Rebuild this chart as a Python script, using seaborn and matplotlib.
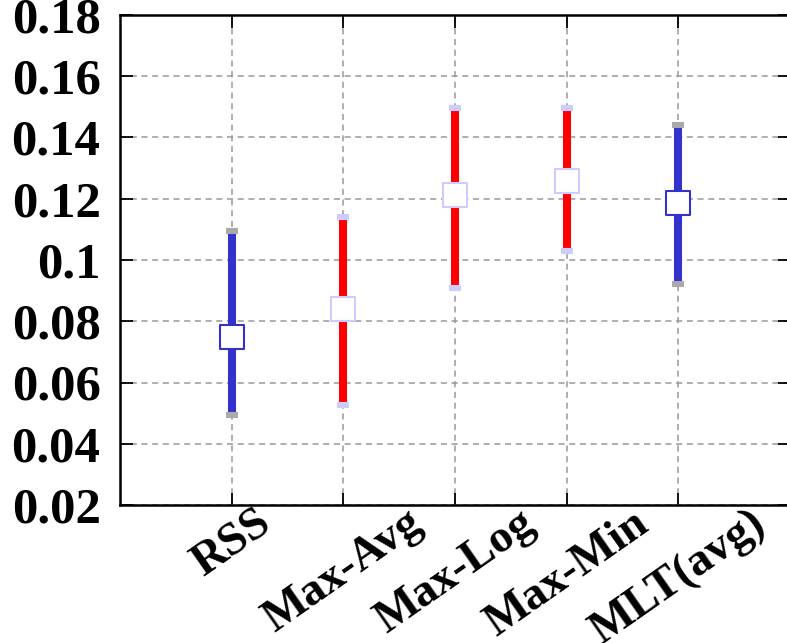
import numpy as np
import pandas as pd
import matplotlib
matplotlib.use("Agg")
import matplotlib.pyplot as plt
import seaborn as sns

methods = ["RSS", "Max-Avg", "Max-Log", "Max-Min", "MLT(avg)"]
means = [0.0750, 0.0840, 0.1211, 0.1259, 0.1187]
lows = [0.0494, 0.0528, 0.0909, 0.1029, 0.0921]
highs = [0.1095, 0.1139, 0.1497, 0.1497, 0.1440]
groups = ["base", "max", "max", "max", "base"]
yticks = [0.02, 0.04, 0.06, 0.08, 0.1, 0.12, 0.14, 0.16, 0.18]
ytick_labels = ["0.02", "0.04", "0.06", "0.08", "0.1", "0.12", "0.14", "0.16", "0.18"]

line_colors = {"base": "#3333CC", "max": "#FF0000"}
cap_colors = {"base": "#AAAAAA", "max": "#CCCCFF"}
mark_edge = {"base": "#3333CC", "max": "#CCCCFF"}

sns.set_theme(style="ticks")
plt.rcParams["font.family"] = ["Liberation Serif", "DejaVu Serif"]
plt.rcParams["font.weight"] = "bold"
plt.rcParams["text.color"] = "black"
plt.rcParams["xtick.color"] = "black"
plt.rcParams["ytick.color"] = "black"
plt.rcParams["xtick.labelcolor"] = "black"
plt.rcParams["ytick.labelcolor"] = "black"

fig = plt.figure(figsize=(7.87, 6.43), dpi=100)
ax = fig.add_axes([120 / 787, 1 - 505 / 643, 670 / 787, 490 / 643])

x = np.arange(len(methods))
df = pd.DataFrame({"x": x, "method": methods, "mean": means, "low": lows,
                   "high": highs, "group": groups})

ax.grid(True, color="#999999", linestyle=(0, (4, 3)), linewidth=1.1, zorder=0)
ax.set_axisbelow(True)

for g in ["base", "max"]:
    sub = df[df.group == g]
    ax.vlines(sub["x"], sub["low"], sub["high"], colors=line_colors[g],
              linewidth=5.8, zorder=2)
    caps = pd.concat([sub[["x"]].assign(y=sub["low"]), sub[["x"]].assign(y=sub["high"])])
    sns.scatterplot(data=caps, x="x", y="y", marker="_", s=85, linewidth=4.4,
                    color=cap_colors[g], ax=ax, zorder=3, legend=False)
    sns.scatterplot(data=sub, x="x", y="mean", marker="s", s=300,
                    facecolor="white", edgecolor=mark_edge[g], linewidth=1.5,
                    ax=ax, zorder=4, legend=False)

ax.set_xlim(-1, 5)
ax.set_ylim(0.02, 0.18)
ax.set_xticks(x)
ax.set_xticklabels(methods, rotation=35, ha="center", va="top",
                   fontsize=33.5, fontweight="bold", color="black")
ax.set_yticks(yticks)
ax.set_yticklabels(ytick_labels, fontsize=36.5, fontweight="bold", color="black")
ax.set_xlabel("")
ax.set_ylabel("")
ax.tick_params(axis="both", direction="in", length=9, width=1.3, color="black",
               top=True, right=True)
ax.tick_params(axis="y", pad=14)
ax.tick_params(axis="x", pad=-2)
for s in ax.spines.values():
    s.set_linewidth(1.8)
    s.set_color("black")

fig.savefig("out.png", dpi=100)
